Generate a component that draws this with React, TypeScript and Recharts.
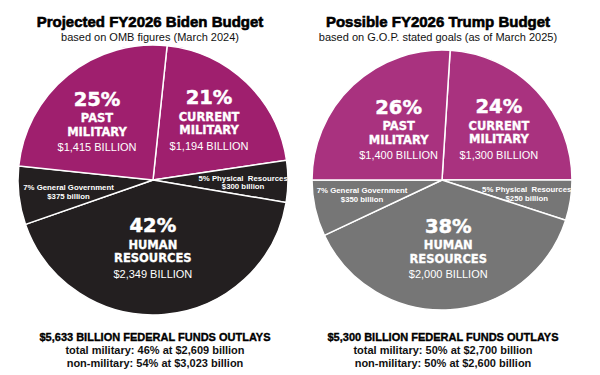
import { PieChart, Pie, Cell } from 'recharts';

// slice order runs clockwise from the top divider
const SLICES = ['Current Military', 'Physical Resources', 'Human Resources', 'General Government', 'Past Military'];
const BIDEN_PCT = [21, 5, 42, 7, 25];
const BIDEN_BILLIONS = ['$1,194', '$300', '$2,349', '$375', '$1,415'];
const TRUMP_PCT = [24, 5, 38, 7, 26];
const TRUMP_BILLIONS = ['$1,300', '$250', '$2,000', '$350', '$1,400'];
const IS_MILITARY = [true, false, false, false, true];
const BIG_LINES = [['CURRENT', 'MILITARY'], null, ['HUMAN', 'RESOURCES'], null, ['PAST', 'MILITARY']];
const SMALL_LINES = ['', 'Physical  Resources', '', 'General Government', ''];

const BIDEN_TITLE = 'Projected FY2026 Biden Budget';
const BIDEN_SUB = 'based on OMB figures (March 2024)';
const BIDEN_FOOT = [
  '$5,633 BILLION FEDERAL FUNDS OUTLAYS',
  'total military: 46% at $2,609 billion',
  'non-military: 54% at $3,023 billion',
];
const TRUMP_TITLE = 'Possible FY2026 Trump Budget';
const TRUMP_SUB = 'based on G.O.P. stated goals (as of March 2025)';
const TRUMP_FOOT = [
  '$5,300 BILLION FEDERAL FUNDS OUTLAYS',
  'total military: 50% at $2,700 billion',
  'non-military: 50% at $2,600 billion',
];

const RAD = Math.PI / 180;
const LABEL_R = [0.6, 0.66, 0.52, 0.63, 0.6];
// small hand nudges so the label blocks sit where the original put them
const BIDEN_NUDGE = [[0, 0], [1, 1], [-6, 0], [0, 2], [-5, 6]];
const TRUMP_NUDGE = [[0, 4], [0, 0], [2, 3], [0, -3.5], [10, 8]];

const HEAVY = '"DejaVu Sans", sans-serif';
const SANS = '"Liberation Sans", Arial, sans-serif';

function makeLabel(billions: string[], nudge: number[][]) {
  return (p: any) => {
    const { cx, cy, midAngle, outerRadius, index, value } = p;
    const r = outerRadius * LABEL_R[index];
    const x = cx + r * Math.cos(-midAngle * RAD) + nudge[index][0];
    const y = cy + r * Math.sin(-midAngle * RAD) + nudge[index][1];
    const big = BIG_LINES[index];
    if (big) {
      return (
        <g>
          <text x={x} y={y - 17.5} textAnchor="middle" fill="#fff" stroke="#fff" strokeWidth={0.5}
            style={{ fontFamily: HEAVY, fontWeight: 700, fontSize: 19.5 }}>{value}%</text>
          <text x={x} y={y - 1} textAnchor="middle" fill="#fff" stroke="#fff" strokeWidth={0.3}
            style={{ fontFamily: HEAVY, fontWeight: 700, fontSize: 11.5 }}>{big[0]}</text>
          <text x={x} y={y + 12.5} textAnchor="middle" fill="#fff" stroke="#fff" strokeWidth={0.3}
            style={{ fontFamily: HEAVY, fontWeight: 700, fontSize: 11.5 }}>{big[1]}</text>
          <text x={x} y={y + 28} textAnchor="middle" fill="#fff"
            style={{ fontFamily: SANS, fontSize: 11 }}>{billions[index]} BILLION</text>
        </g>
      );
    }
    return (
      <g>
        <text x={x} y={y - 1.4} textAnchor="middle" fill="#fff"
          style={{ fontFamily: SANS, fontWeight: 700, fontSize: 7.8, whiteSpace: 'pre' }}>
          {value}% {SMALL_LINES[index]}
        </text>
        <text x={x} y={y + 7.4} textAnchor="middle" fill="#fff"
          style={{ fontFamily: SANS, fontWeight: 700, fontSize: 7.8 }}>
          {billions[index]} billion
        </text>
      </g>
    );
  };
}

const bidenData = SLICES.map((name, i) => ({ name, value: BIDEN_PCT[i] }));
const trumpData = SLICES.map((name, i) => ({ name, value: TRUMP_PCT[i] }));

function Heading({ x, title, sub, foot }: { x: number; title: string; sub: string; foot: string[] }) {
  return (
    <g>
      <text x={x} y={27} textAnchor="middle" fill="#000" stroke="#000" strokeWidth={0.6}
        style={{ fontFamily: SANS, fontWeight: 700, fontSize: 15 }}>{title}</text>
      <text x={x} y={40.5} textAnchor="middle" fill="#111"
        style={{ fontFamily: SANS, fontSize: 11 }}>{sub}</text>
      <text x={x + 5} y={341} textAnchor="middle" fill="#000" stroke="#000" strokeWidth={0.35}
        style={{ fontFamily: SANS, fontWeight: 700, fontSize: 11 }}>{foot[0]}</text>
      <text x={x + 5} y={354} textAnchor="middle" fill="#111"
        style={{ fontFamily: SANS, fontWeight: 700, fontSize: 11 }}>{foot[1]}</text>
      <text x={x + 5} y={367} textAnchor="middle" fill="#111"
        style={{ fontFamily: SANS, fontWeight: 700, fontSize: 11 }}>{foot[2]}</text>
    </g>
  );
}

export default function App() {
  return (
    <div style={{ position: 'absolute', left: 0, top: 0, width: 600, height: 375, background: '#fff' }}>
      <PieChart width={600} height={375} margin={{ top: 0, right: 0, bottom: 0, left: 0 }}>
        <Pie data={bidenData} dataKey="value" nameKey="name"
          cx={153} cy={180} outerRadius={135} startAngle={84} endAngle={-276}
          stroke="#fff" strokeWidth={1.5} labelLine={false}
          label={makeLabel(BIDEN_BILLIONS, BIDEN_NUDGE)} isAnimationActive={false}>
          {bidenData.map((d, i) => (
            <Cell key={d.name} fill={IS_MILITARY[i] ? '#9f1f6e' : '#231f20'} />
          ))}
        </Pie>
        <Pie data={trumpData} dataKey="value" nameKey="name"
          cx={442} cy={180} outerRadius={130} startAngle={86.4} endAngle={-273.6}
          stroke="#fff" strokeWidth={1.5} labelLine={false}
          label={makeLabel(TRUMP_BILLIONS, TRUMP_NUDGE)} isAnimationActive={false}>
          {trumpData.map((d, i) => (
            <Cell key={d.name} fill={IS_MILITARY[i] ? '#a9327f' : '#767676'} />
          ))}
        </Pie>
      </PieChart>
      <svg width={600} height={375} style={{ position: 'absolute', left: 0, top: 0, pointerEvents: 'none' }}>
        <Heading x={150} title={BIDEN_TITLE} sub={BIDEN_SUB} foot={BIDEN_FOOT} />
        <Heading x={438} title={TRUMP_TITLE} sub={TRUMP_SUB} foot={TRUMP_FOOT} />
      </svg>
    </div>
  );
}
